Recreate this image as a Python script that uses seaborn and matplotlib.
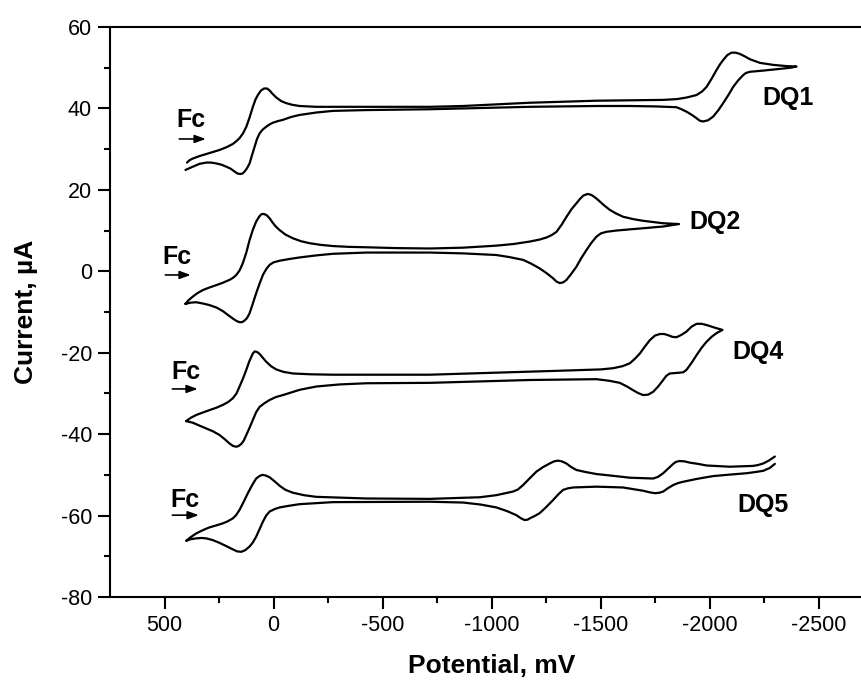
import numpy as np
import pandas as pd
import seaborn as sns
import matplotlib.pyplot as plt

# potential (mV) / current (uA), traced around each voltammogram
dq1_e = [397, 385, 370, 340, 309, 278, 248, 215, 186, 170, 156, 140, 125, 110, 95, 83, 72, 58, 44, 30, 18, 5,
         -12, -35, -58, -85, -119, -196, -272, -425, -716, -868, -1174, -1480, -1786, -1850, -1895, -1939,
         -1965, -1985, -2008, -2030, -2046, -2061, -2080, -2099, -2118, -2137, -2160, -2183, -2229, -2290,
         -2352, -2397,
         -2370, -2336, -2245, -2183, -2165, -2153, -2130, -2107, -2085, -2061, -2038, -2015, -1992, -1969,
         -1953, -1939, -1915, -1893, -1870, -1847, -1750, -1633, -1480, -1174, -868, -716, -425, -272, -196,
         -119, -80, -43, -20, 3, 18, 34, 50, 64, 76, 87, 99, 110, 122, 133, 143, 153, 165, 179, 197, 217,
         240, 263, 286, 309, 339, 370, 404]
dq1_i = [26.7, 27.3, 27.7, 28.3, 28.8, 29.3, 29.8, 30.5, 31.3, 32.0, 32.7, 33.9, 35.5, 37.8, 40.4, 42.2, 43.3,
         44.4, 44.9, 44.9, 44.4, 43.6, 42.7, 41.8, 41.3, 40.9, 40.6, 40.4, 40.4, 40.4, 40.4, 40.6, 41.4, 41.9,
         42.1, 42.3, 42.7, 43.3, 44.2, 45.3, 47.3, 49.4, 50.8, 51.9, 53.1, 53.7, 53.7, 53.4, 52.8, 52.1, 51.2,
         50.7, 50.4, 50.3,
         50.0, 49.8, 49.3, 49.0, 48.7, 48.2, 46.9, 45.3, 43.3, 41.3, 39.5, 38.0, 37.1, 36.8, 37.0, 37.6, 38.5,
         39.2, 39.8, 40.3, 40.5, 40.6, 40.6, 40.4, 40.0, 39.8, 39.6, 39.4, 39.0, 38.4, 37.9, 37.2, 36.9, 36.5,
         36.1, 35.5, 34.8, 33.9, 32.5, 30.6, 28.5, 26.5, 25.3, 24.5, 24.0, 23.9, 24.0, 24.5, 25.2, 25.7, 26.2,
         26.5, 26.7, 26.7, 26.4, 25.7, 24.9]

dq2_e = [404, 390, 370, 350, 324, 295, 263, 232, 202, 186, 171, 156, 141, 125, 110, 95, 80, 65, 56, 49, 40, 30,
         18, 5, -10, -28, -55, -89, -125, -165, -215, -272, -345, -425, -560, -716, -869, -1021, -1100, -1174,
         -1220, -1251, -1275, -1297, -1320, -1343, -1365, -1388, -1405, -1420, -1439, -1455, -1470, -1488,
         -1515, -1541, -1570, -1602, -1650, -1694, -1786, -1859,
         -1786, -1700, -1633, -1570, -1526, -1500, -1480, -1457, -1434, -1410, -1388, -1365, -1343, -1328,
         -1312, -1296, -1281, -1250, -1220, -1180, -1144, -1080, -1021, -869, -716, -425, -272, -195, -119,
         -70, -28, 0, 18, 33, 49, 64, 80, 95, 110, 122, 133, 145, 156, 170, 187, 210, 232, 262, 294, 325, 355,
         380, 404]
dq2_i = [-8.0, -7.1, -6.2, -5.4, -4.6, -4.0, -3.4, -2.8, -2.1, -1.6, -0.9, 0.2, 2.0, 4.6, 7.7, 10.2, 12.2, 13.5,
         14.0, 14.1, 14.0, 13.7, 13.0, 12.0, 11.0, 10.1, 9.0, 8.1, 7.4, 6.9, 6.5, 6.2, 6.0, 5.9, 5.7, 5.6, 5.8,
         6.3, 6.7, 7.3, 7.8, 8.3, 8.9, 9.7, 11.4, 13.4, 15.2, 16.7, 17.8, 18.6, 19.0, 18.8, 18.3, 17.5, 16.2,
         15.1, 14.2, 13.4, 12.8, 12.4, 11.8, 11.6,
         11.0, 10.6, 10.3, 10.0, 9.7, 9.3, 8.5, 7.0, 5.2, 3.2, 1.1, -0.6, -2.1, -2.7, -2.9, -2.5, -1.7, -0.4,
         0.7, 1.9, 2.8, 3.5, 4.0, 4.4, 4.6, 4.6, 4.3, 3.9, 3.4, 3.0, 2.6, 2.2, 1.6, 0.6, -0.9, -3.0, -5.4,
         -7.9, -10.3, -11.5, -12.1, -12.5, -12.5, -12.2, -11.6, -10.7, -9.8, -8.9, -8.3, -7.9, -7.6, -7.7, -8.0]

dq4_e = [401, 380, 355, 325, 294, 262, 232, 208, 187, 170, 156, 140, 125, 112, 102, 94, 87, 76, 64, 50, 34, 12,
         -12, -45, -89, -170, -272, -716, -1021, -1327, -1500, -1557, -1600, -1633, -1656, -1679, -1702, -1725,
         -1748, -1771, -1790, -1809, -1828, -1847, -1870, -1893, -1916, -1939, -1962, -1985, -2020, -2058,
         -2030, -2008, -1985, -1962, -1939, -1916, -1893, -1878, -1862, -1840, -1816, -1800, -1786, -1763,
         -1740, -1717, -1694, -1671, -1648, -1620, -1587, -1540, -1480, -1174, -716, -425, -300, -196, -120,
         -43, -10, 18, 42, 64, 80, 95, 110, 125, 137, 148, 160, 171, 186, 202, 225, 248, 278, 309, 340, 370, 401]
dq4_i = [-36.8, -36.0, -35.3, -34.7, -34.1, -33.5, -32.8, -32.1, -31.2, -30.0, -28.3, -26.3, -24.2, -22.2, -21.0,
         -20.1, -19.7, -19.8, -20.3, -21.2, -22.2, -23.3, -24.1, -24.7, -25.1, -25.3, -25.4, -25.4, -24.9, -24.4,
         -24.1, -23.8, -23.3, -22.6, -21.5, -20.2, -18.5, -16.9, -15.8, -15.4, -15.4, -15.7, -16.1, -16.2,
         -15.6, -14.8, -13.6, -12.9, -12.9, -13.2, -13.8, -14.4,
         -15.2, -16.1, -17.3, -18.8, -20.6, -22.5, -24.2, -24.8, -24.9, -25.0, -25.1, -25.7, -26.7, -28.3,
         -29.6, -30.3, -30.4, -29.9, -29.2, -28.3, -27.4, -26.9, -26.5, -26.7, -27.4, -27.5, -27.8, -28.3,
         -29.1, -30.4, -30.9, -31.6, -32.4, -33.3, -34.6, -36.5, -38.4, -40.2, -41.6, -42.4, -42.9, -43.1,
         -42.9, -42.3, -41.2, -40.2, -39.3, -38.6, -37.9, -37.2, -36.8]

dq5_e = [-2298, -2270, -2245, -2220, -2198, -2091, -1985, -1945, -1908, -1885, -1862, -1845, -1832, -1810, -1786,
         -1762, -1740, -1633, -1550, -1480, -1430, -1388, -1365, -1342, -1322, -1304, -1285, -1266, -1235,
         -1205, -1175, -1144, -1120, -1098, -1020, -945, -716, -425, -196, -140, -89, -55, -28, -5, 18, 34,
         49, 62, 80, 98, 118, 137, 156, 172, 187, 210, 232, 262, 294, 325, 355, 380, 401,
         380, 355, 330, 309, 280, 248, 217, 187, 167, 148, 130, 110, 95, 80, 64, 49, 34, 18, -5, -28, -70,
         -119, -272, -716, -869, -950, -1021, -1070, -1113, -1135, -1151, -1165, -1174, -1197, -1220, -1250,
         -1281, -1305, -1327, -1350, -1373, -1480, -1602, -1694, -1725, -1748, -1768, -1786, -1810, -1832,
         -1855, -1877, -1940, -2015, -2100, -2168, -2210, -2245, -2275, -2298]
dq5_i = [-45.5, -46.5, -47.2, -47.6, -47.8, -48.0, -47.7, -47.3, -47.0, -46.7, -46.6, -46.8, -47.3, -48.4, -49.6,
         -50.5, -50.9, -50.7, -50.2, -49.8, -49.3, -48.8, -48.1, -47.2, -46.7, -46.5, -46.7, -47.2, -48.1,
         -49.2, -50.8, -52.5, -53.6, -54.1, -55.0, -55.5, -55.9, -55.8, -55.4, -55.0, -54.4, -53.7, -52.7,
         -51.6, -50.6, -50.2, -50.0, -50.2, -50.9, -52.5, -54.5, -56.6, -58.6, -59.9, -60.7, -61.4, -61.9,
         -62.4, -62.9, -63.6, -64.4, -65.3, -66.2,
         -65.8, -65.6, -65.5, -65.6, -66.0, -66.7, -67.5, -68.3, -68.8, -68.9, -68.5, -67.6, -66.6, -65.2,
         -63.3, -61.5, -60.0, -59.0, -58.4, -58.0, -57.6, -57.2, -56.7, -56.6, -56.8, -57.3, -58.0, -58.9,
         -59.9, -60.7, -61.1, -61.0, -60.7, -60.1, -59.4, -57.9, -56.2, -54.8, -53.7, -53.3, -53.1, -52.9,
         -53.1, -53.9, -54.3, -54.5, -54.4, -54.1, -53.2, -52.5, -52.0, -51.7, -51.0, -50.3, -49.9, -49.6,
         -49.3, -49.0, -48.3, -47.3]

curve_names = ["DQ1", "DQ2", "DQ4", "DQ5"]
name_x = [-2243, -1904, -2101, -2128]
name_y = [42.6, 12.1, -19.8, -57.4]
fc_x = [445, 509, 468, 472]
fc_y = [37.2, 3.5, -24.7, -56.2]
arrow_y = [32.5, -0.9, -28.9, -59.9]
arrow_x0 = [445, 509, 477, 477]
arrow_x1 = [298, 367, 335, 330]

sns.set_theme(style="ticks")
plt.rcParams['font.family'] = ['Liberation Sans', 'DejaVu Sans']
plt.rcParams['axes.unicode_minus'] = False
plt.rcParams['text.color'] = 'black'
plt.rcParams['axes.labelcolor'] = 'black'

fig = plt.figure(figsize=(8.62, 6.84), dpi=100)
ax = fig.add_axes([0.1276, 0.1272, 0.8857, 0.8333])

curves = [(dq1_e, dq1_i), (dq2_e, dq2_i), (dq4_e, dq4_i), (dq5_e, dq5_i)]
for name, (e, i) in zip(curve_names, curves):
    df = pd.DataFrame({"Potential": e, "Current": i})
    sns.lineplot(data=df, x="Potential", y="Current", sort=False, estimator=None,
                 color="black", lw=1.6, ax=ax)

for k, name in enumerate(curve_names):
    ax.text(name_x[k], name_y[k], name, fontsize=18, fontweight="bold", ha="left", va="center")
    ax.text(fc_x[k], fc_y[k], "Fc", fontsize=18, fontweight="bold", ha="left", va="center")
    ax.annotate("", xy=(arrow_x1[k], arrow_y[k]), xytext=(arrow_x0[k], arrow_y[k]),
                arrowprops=dict(arrowstyle="-|>,head_length=0.55,head_width=0.2", color="black", lw=1.2))

ax.set_xlim(750, -2750)
ax.set_ylim(-80, 60)
ax.set_xticks([500, 0, -500, -1000, -1500, -2000, -2500])
ax.set_xticks([250, -250, -750, -1250, -1750, -2250], minor=True)
ax.set_yticks([60, 40, 20, 0, -20, -40, -60, -80])
ax.set_yticks([50, 30, 10, -10, -30, -50, -70], minor=True)

for s in ["left", "bottom", "top"]:
    ax.spines[s].set_linewidth(1.5)
    ax.spines[s].set_color("black")
ax.spines["right"].set_visible(False)

ax.tick_params(axis="both", which="major", direction="out", length=8.5, width=1.5,
               labelsize=15.5, colors="black", pad=4.5)
ax.tick_params(axis="both", which="minor", direction="out", length=4, width=1.5, colors="black")
ax.tick_params(top=False, right=False, which="both")

ax.set_xlabel("Potential, mV", fontsize=19, fontweight="bold")
ax.set_ylabel("Current, \u00b5A", fontsize=19, fontweight="bold")
ax.xaxis.set_label_coords(0.5, -0.1)
ax.yaxis.set_label_coords(-0.094, 0.5)

fig.savefig("out.png", dpi=100)
